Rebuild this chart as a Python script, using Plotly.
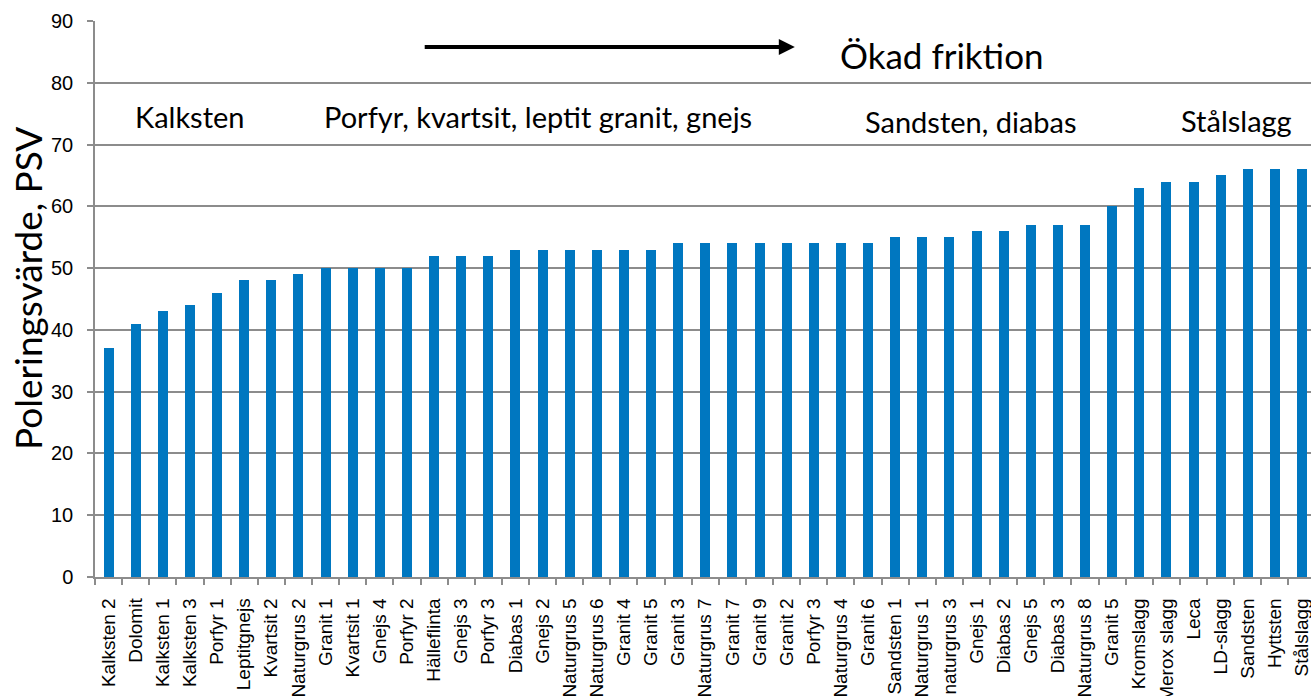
import plotly.graph_objects as go

categories = ["Kalksten 2", "Dolomit", "Kalksten 1", "Kalksten 3", "Porfyr 1", "Leptitgnejs",
              "Kvartsit 2", "Naturgrus 2", "Granit 1", "Kvartsit 1", "Gnejs 4", "Porfyr 2",
              "Hälleflinta", "Gnejs 3", "Porfyr 3", "Diabas 1", "Gnejs 2", "Naturgrus 5",
              "Naturgrus 6", "Granit 4", "Granit 5", "Granit 3", "Naturgrus 7", "Granit 7",
              "Granit 9", "Granit 2", "Porfyr 3", "Naturgrus 4", "Granit 6", "Sandsten 1",
              "Naturgrus 1", "naturgrus 3", "Gnejs 1", "Diabas 2", "Gnejs 5", "Diabas 3",
              "Naturgrus 8", "Granit 5", "Kromslagg", "Merox slagg", "Leca", "LD-slagg",
              "Sandsten", "Hyttsten", "Stålslagg"]
psv = [37, 41, 43, 44, 46, 48, 48, 49, 50, 50, 50, 50, 52, 52, 52, 53, 53, 53, 53, 53, 53,
       54, 54, 54, 54, 54, 54, 54, 54, 55, 55, 55, 56, 56, 57, 57, 57, 60, 63, 64, 64, 65,
       66, 66, 66]
y_ticks = list(range(0, 91, 10))

group_labels = ["Kalksten", "Porfyr, kvartsit, leptit granit, gnejs", "Sandsten, diabas", "Stålslagg"]
group_x = [2.99, 15.82, 31.8, 41.6]
group_y = [74.5, 74.5, 73.8, 73.9]

idx = list(range(len(categories)))

fig = go.Figure()
fig.add_trace(go.Bar(x=idx, y=psv, width=0.37, marker=dict(color="#0077C0", line=dict(width=0))))

title_font = "Lato, 'Open Sans', sans-serif"
for lab, gx, gy in zip(group_labels, group_x, group_y):
    fig.add_annotation(x=gx, y=gy, text=lab, showarrow=False, xanchor="center", yanchor="middle",
                       font=dict(family=title_font, size=29, color="black"))

fig.add_annotation(x=26.9, y=84.5, text="Ökad friktion", showarrow=False, xanchor="left",
                   yanchor="middle", font=dict(family=title_font, size=35, color="black"))
fig.add_annotation(x=25.3, y=85.8, ax=11.6, ay=85.8, xref="x", yref="y", axref="x", ayref="y",
                   text="", showarrow=True, arrowhead=2, arrowsize=0.8, arrowwidth=4,
                   arrowcolor="black")

# y-axis title (placed as rotated annotation so its centre matches the reference)
fig.add_annotation(xref="paper", yref="paper", x=-0.0551, y=0.52, text="Poleringsvärde, PSV",
                   textangle=-90, showarrow=False, xanchor="center", yanchor="middle",
                   font=dict(family=title_font, size=37, color="black"))

fig.update_layout(
    width=1311, height=696,
    margin=dict(l=95, r=0, t=21, b=119, autoexpand=False),
    paper_bgcolor="white", plot_bgcolor="white",
    showlegend=False,
    bargap=0,
    font=dict(family="'Liberation Sans', Arial, sans-serif", color="black"),
)
fig.update_xaxes(
    range=[-0.5, 44.33], tickmode="array", tickvals=idx, ticktext=categories,
    tickangle=-90, tickfont=dict(size=19, color="black"), showgrid=False, automargin=False,
    ticklabeloverflow="allow", ticklabelstandoff=12,
    showline=True, linecolor="#8c8c8c", linewidth=1.5, ticks="", zeroline=False,
)
fig.update_xaxes(minor=dict(ticks="outside", tickmode="array",
                            tickvals=[i - 0.5 for i in range(len(categories) + 1)],
                            ticklen=6, tickcolor="#8c8c8c", tickwidth=1.5, showgrid=False))
fig.update_yaxes(
    range=[0, 90], tickmode="array", tickvals=y_ticks, tickfont=dict(size=20, color="black"),
    showgrid=True, gridcolor="#8c8c8c", gridwidth=1.5, showline=True, linecolor="#8c8c8c",
    linewidth=1.5, ticks="outside", ticklen=6, tickcolor="#8c8c8c", tickwidth=1.5,
    ticklabelstandoff=10, zeroline=False, automargin=False,
)
fig.write_html("out.html", config={"displayModeBar": False},
               post_script="document.body.style.margin='0';document.body.style.overflow='hidden';")
